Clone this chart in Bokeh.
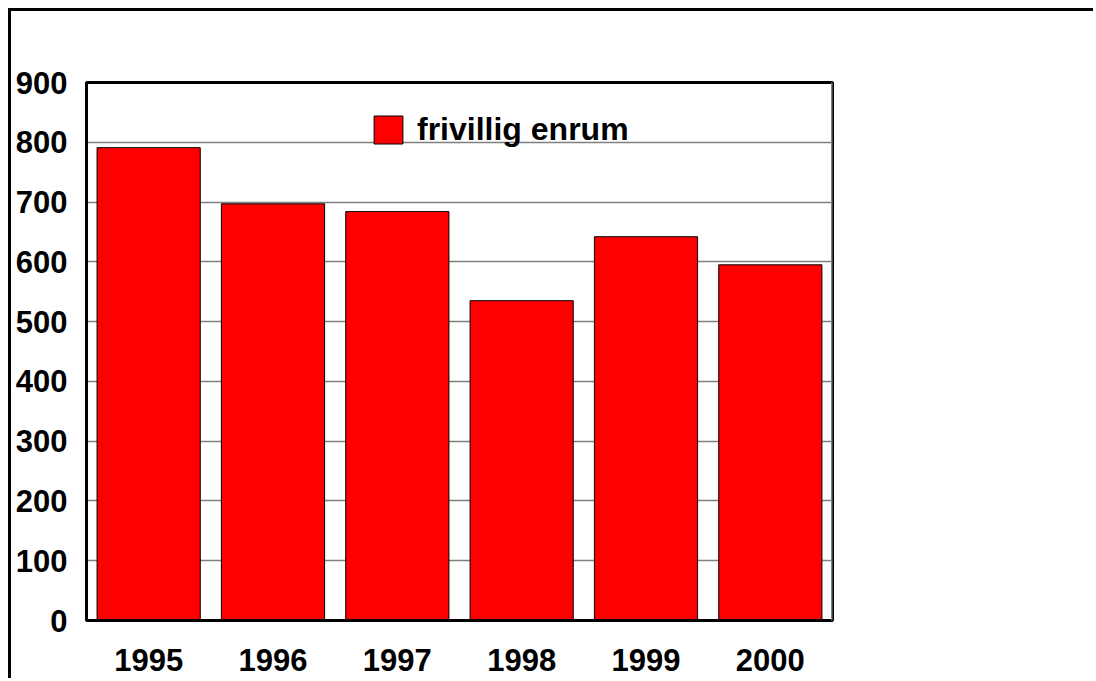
from bokeh.plotting import figure
from bokeh.models import ColumnDataSource, Legend, LegendItem, FixedTicker, Span
from bokeh.embed import file_html
from bokeh.resources import INLINE

years = ["1995", "1996", "1997", "1998", "1999", "2000"]
values = [791, 697, 684, 535, 642, 595]
series_name = "frivillig enrum"
y_ticks = [0, 100, 200, 300, 400, 500, 600, 700, 800, 900]

FONT = "Liberation Sans"

src = ColumnDataSource(dict(x=years, top=values))

p = figure(x_range=years, y_range=(0, 900), width=1085, height=670,
           output_backend="svg", toolbar_location=None,
           min_border_left=75, min_border_top=71, min_border_right=264,
           min_border_bottom=61,
           styles={"margin-left": "8px", "margin-top": "8px",
                   "border-top": "3px solid black", "border-left": "3px solid black"})
p.x_range.range_padding = 0

r = p.vbar(x="x", top="top", width=0.83, source=src, fill_color="#FF0000",
           line_color="black", line_width=1)

p.yaxis.ticker = FixedTicker(ticks=y_ticks)
for ax in (p.xaxis[0], p.yaxis[0]):
    ax.axis_line_color = "black"
    ax.axis_line_width = 3
    ax.major_tick_line_color = None
    ax.minor_tick_line_color = None
    ax.major_tick_out = 0
    ax.major_tick_in = 0
    ax.minor_tick_out = 0
    ax.minor_tick_in = 0
    ax.major_label_text_font = FONT
    ax.major_label_text_font_style = "bold"
    ax.major_label_text_font_size = "31px"
    ax.major_label_text_color = "black"
p.xaxis.major_label_standoff = 28
p.yaxis.major_label_standoff = 19

p.xgrid.grid_line_color = None
p.ygrid.grid_line_color = "#808080"
p.ygrid.grid_line_width = 1.5

p.outline_line_color = "black"
p.outline_line_width = 3
p.add_layout(Span(location=6, dimension="height", line_color="#808080", line_width=3))

legend = Legend(items=[LegendItem(label=series_name, renderers=[r])],
                location=(284, 472), padding=0, margin=0,
                glyph_width=36, glyph_height=35, label_standoff=11,
                label_text_font=FONT, label_text_font_style="bold",
                label_text_font_size="32px", label_text_color="black",
                background_fill_alpha=0, border_line_color=None)
p.add_layout(legend)

open("out.html", "w").write(file_html(p, INLINE))
